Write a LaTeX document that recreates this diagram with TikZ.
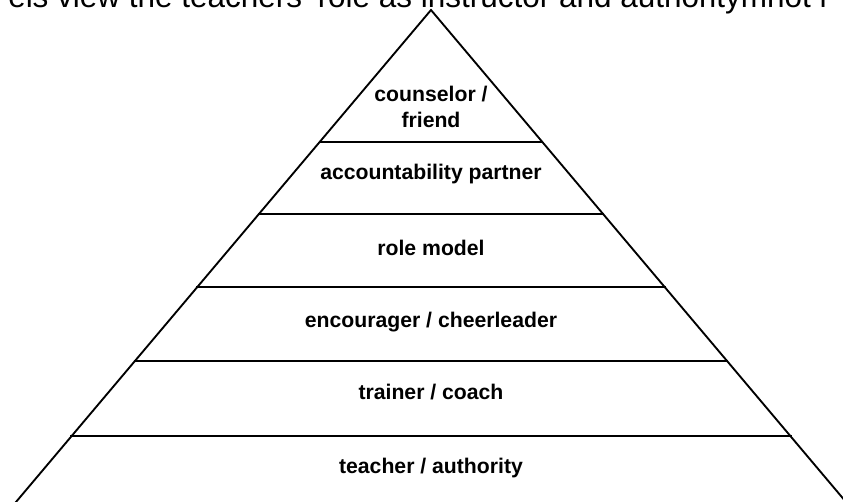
\documentclass[tikz,border=0pt]{standalone}
\usepackage{fontspec}
\setmainfont{Liberation Sans}
\begin{document}
\begin{tikzpicture}[x=0.75pt,y=-0.75pt,
  tier/.style={line width=1.4pt,line cap=butt},
  lbl/.style={font=\fontsize{15.9}{19.5}\selectfont\bfseries,anchor=base,inner sep=0pt,align=center},
  ttl/.style={font=\fontsize{23.6}{28}\selectfont,anchor=base west,inner sep=0pt}]
\useasboundingbox (0,0) rectangle (843,502);
\clip (0,0) rectangle (843,502);
% pyramid
\coordinate (apex) at (431,10);
\coordinate (bl) at (0.8,520);
\coordinate (br) at (861.2,520);
\draw[tier,line join=miter] (bl) -- (apex) -- (br);
\foreach \yy in {142,214,287,361,436}{
  \pgfmathsetmacro{\dx}{0.8474*(\yy-10)}
  \draw[tier] ({431-\dx},\yy) -- ({431+\dx},\yy);
}
% labels
\node[lbl] (l1) at (431,102) {counselor /};
\node[lbl] (l1b) at (431,128) {friend};
\node[lbl] (l2) at (431,180) {accountability partner};
\node[lbl] (l3) at (431,256) {role model};
\node[lbl] (l4) at (431,328) {encourager / cheerleader};
\node[lbl] (l5) at (431,400) {trainer / coach};
\node[lbl] (l6) at (431,473) {teacher / authority};
% clipped title
\node[ttl] (title) at (8,7.5) {els view the teachers’ role as instructor and authoritymnot r};
\end{tikzpicture}
\end{document}
